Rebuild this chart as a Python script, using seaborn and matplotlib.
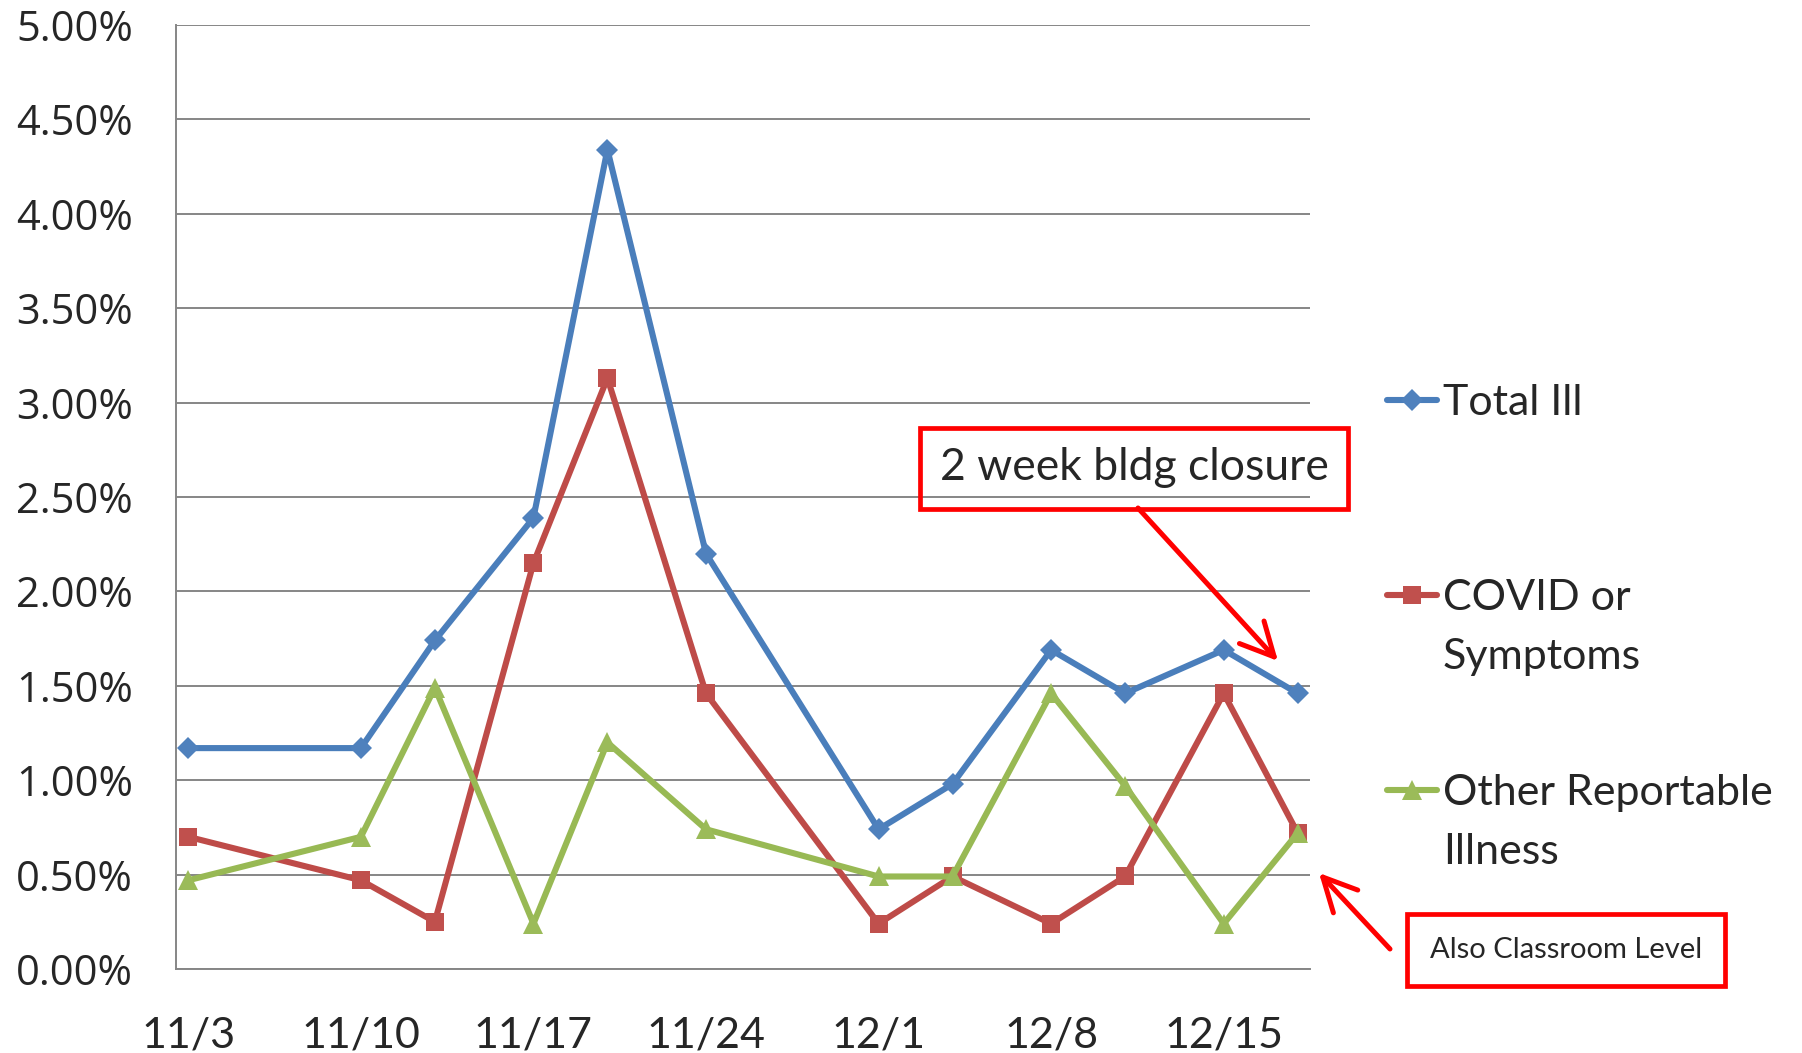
import pandas as pd
import seaborn as sns
import matplotlib.pyplot as plt
from matplotlib.ticker import FixedLocator, PercentFormatter

sns.set_style("white")
plt.rcParams['font.family'] = ['Lato', 'DejaVu Sans']

# data (percent)
dates = ["11/3", "11/10", "11/13", "11/17", "11/20", "11/24",
         "12/1", "12/4", "12/8", "12/11", "12/15", "12/18"]
total_ill = [1.17, 1.17, 1.74, 2.39, 4.34, 2.20, 0.74, 0.98, 1.69, 1.46, 1.69, 1.46]
covid = [0.70, 0.47, 0.25, 2.15, 3.13, 1.46, 0.24, 0.49, 0.24, 0.49, 1.46, 0.72]
other = [0.47, 0.70, 1.49, 0.24, 1.20, 0.74, 0.49, 0.49, 1.46, 0.97, 0.24, 0.72]
tick_dates = ["11/3", "11/10", "11/17", "11/24", "12/1", "12/8", "12/15"]

series = ["Total Ill", "COVID or", "Other Reportable"]
values = [total_ill, covid, other]
line_colors = ["#4A7EBB", "#BE4B48", "#98B954"]
marker_colors = ["#4F81BD", "#C0504D", "#9BBB59"]
markers = ["D", "s", "^"]
msizes = [11, 13, 14]

def to_day(s):
    return pd.to_datetime("2020/" + s, format="%Y/%m/%d")

start = to_day("11/3")
days = [(to_day(d) - start).days for d in dates]

fig = plt.figure(figsize=(18.02, 10.53), dpi=100)
ax = fig.add_axes([176 / 1802, 1 - 969 / 1053, (1310 - 176) / 1802, (969 - 25) / 1053])

for name, vals, lc, mc, mk, ms in zip(series, values, line_colors, marker_colors, markers, msizes):
    df = pd.DataFrame({"day": [d + 0.5 for d in days], "pct": vals})
    sns.lineplot(data=df, x="day", y="pct", ax=ax, color=lc, lw=4.4,
                 marker=mk, markersize=ms, markerfacecolor=mc,
                 markeredgecolor=mc, markeredgewidth=0, label=name)

ax.set_xlim(0, 46)
ax.set_ylim(0, 5)
ax.set_yticks([i * 0.5 for i in range(11)])
ax.yaxis.set_major_formatter(PercentFormatter(xmax=100, decimals=2))
tick_days = [(to_day(t) - start).days for t in tick_dates]
ax.xaxis.set_major_locator(FixedLocator(tick_days))
ax.xaxis.set_minor_locator(FixedLocator([t + 0.5 for t in tick_days]))
ax.set_xticklabels([])
ax.set_xticklabels(tick_dates, minor=True)
ax.tick_params(axis="x", which="major", length=10, width=1.4, color="#868686", direction="out")
ax.tick_params(axis="x", which="minor", length=0, pad=34, labelsize=31)
ax.tick_params(axis="y", length=11, width=1.4, color="#868686", direction="out", pad=20)
for lab in ax.get_yticklabels():
    lab.set_fontfamily("Open Sans")
    lab.set_fontsize(30)
ax.yaxis.grid(True, color="#868686", lw=1.4)
ax.set_axisbelow(True)
sns.despine(ax=ax)
for side in ["left", "bottom"]:
    ax.spines[side].set_color("#868686")
    ax.spines[side].set_linewidth(1.4)
ax.set_xlabel("")
ax.set_ylabel("")

handles, labels = ax.get_legend_handles_labels()
ax.get_legend().remove()
leg = fig.legend(handles, labels, loc="upper left",
                 bbox_to_anchor=(1387 / 1802, 1 - 384 / 1053),
                 frameon=False, fontsize=31, handlelength=1.15,
                 handletextpad=0.15, labelspacing=3.65, borderpad=0, borderaxespad=0)

# second lines of the wrapped legend labels
fig.canvas.draw()
inv = fig.transFigure.inverted()
for txt, extra in zip(leg.get_texts()[1:], ["Symptoms", "Illness"]):
    bb = txt.get_window_extent()
    x, y = inv.transform((bb.x0, bb.y0 - 59))
    fig.text(x, y, extra, fontsize=31, va="bottom", ha="left")

# callouts
arrow = dict(arrowstyle="->,head_length=0.8,head_width=0.4", color="#FF0000",
             lw=3.6, shrinkA=0, shrinkB=0, mutation_scale=30)
box = dict(boxstyle="square,pad=0.45", fc="none", ec="#FF0000", lw=3.4)
fig.text(1134 / 1802, 1 - 468 / 1053, "2 week bldg closure", fontsize=32,
         ha="center", va="center", bbox=box)
ax.annotate("", xy=(1278, 1053 - 661), xycoords="figure pixels",
            xytext=(1138, 1053 - 508), textcoords="figure pixels",
            annotation_clip=False, arrowprops=arrow)

box2 = dict(boxstyle="square,pad=0.8", fc="none", ec="#FF0000", lw=3.4)
fig.text(1566 / 1802, 1 - 950 / 1053, "Also Classroom Level", fontsize=21,
         ha="center", va="center", bbox=box2)
ax.annotate("", xy=(1319, 1053 - 873), xycoords="figure pixels",
            xytext=(1390, 1053 - 949), textcoords="figure pixels",
            annotation_clip=False, arrowprops=arrow)

plt.savefig("out.png", dpi=100)
